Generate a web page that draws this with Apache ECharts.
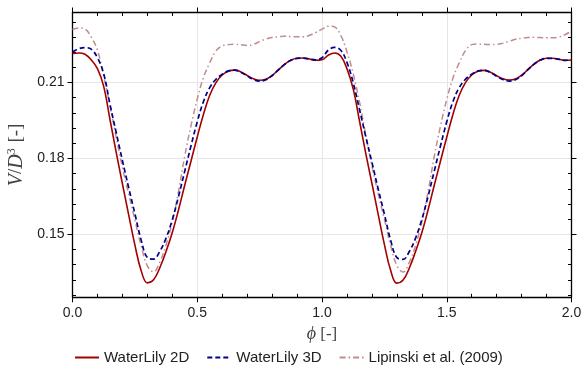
<!DOCTYPE html>
<html><head><meta charset="utf-8">
<script src="https://cdn.jsdelivr.net/npm/echarts@6/dist/echarts.min.js"></script>
<style>html,body{margin:0;padding:0;background:#fff}#c{width:583px;height:370px}</style>
</head><body><div id="c"></div>
<script>
const phi = [0.000,0.025,0.050,0.075,0.100,0.125,0.150,0.175,0.200,0.225,0.250,0.275,0.300,0.325,0.350,0.375,0.400,0.425,0.450,0.475,
0.500,0.525,0.550,0.575,0.600,0.625,0.650,0.675,0.700,0.725,0.750,0.775,0.800,0.825,0.850,0.875,0.900,0.925,0.950,0.975,
1.000,1.025,1.050,1.075,1.100,1.125,1.150,1.175,1.200,1.225,1.250,1.275,1.300,1.325,1.350,1.375,1.400,1.425,1.450,1.475,
1.500,1.525,1.550,1.575,1.600,1.625,1.650,1.675,1.700,1.725,1.750,1.775,1.800,1.825,1.850,1.875,1.900,1.925,1.950,1.975,2.000];

const v2d = [0.2215,0.2217,0.2212,0.2190,0.2155,0.2085,0.1955,0.1825,0.1700,0.1578,0.1458,0.1357,0.1308,0.1320,0.1368,0.1432,0.1507,0.1597,0.1695,0.1790,
0.1885,0.1975,0.2050,0.2100,0.2130,0.2145,0.2149,0.2142,0.2128,0.2115,0.2109,0.2113,0.2128,0.2150,0.2172,0.2188,0.2196,0.2197,0.2193,0.2188,
0.2190,0.2208,0.2217,0.2205,0.2155,0.2075,0.1950,0.1822,0.1702,0.1580,0.1460,0.1358,0.1307,0.1319,0.1367,0.1432,0.1506,0.1596,0.1694,0.1790,
0.1884,0.1975,0.2050,0.2100,0.2130,0.2145,0.2148,0.2141,0.2127,0.2115,0.2110,0.2114,0.2129,0.2151,0.2173,0.2189,0.2196,0.2196,0.2192,0.2188,0.2189];

const v3d = [0.2221,0.2234,0.2238,0.2232,0.2198,0.2135,0.2015,0.1903,0.1792,0.1685,0.1582,0.1478,0.1408,0.1402,0.1433,0.1485,0.1558,0.1650,0.1750,0.1850,
0.1945,0.2025,0.2080,0.2113,0.2133,0.2146,0.2149,0.2141,0.2126,0.2112,0.2106,0.2111,0.2127,0.2150,0.2172,0.2188,0.2196,0.2197,0.2193,0.2190,
0.2198,0.2228,0.2239,0.2228,0.2180,0.2100,0.1995,0.1888,0.1785,0.1680,0.1580,0.1477,0.1408,0.1401,0.1432,0.1485,0.1558,0.1650,0.1750,0.1850,
0.1945,0.2025,0.2080,0.2113,0.2133,0.2146,0.2148,0.2140,0.2125,0.2112,0.2106,0.2111,0.2127,0.2151,0.2173,0.2189,0.2196,0.2196,0.2192,0.2188,0.2189];

const lip = [0.2310,0.2316,0.2312,0.2280,0.2228,0.2125,0.2010,0.1885,0.1765,0.1660,0.1557,0.1455,0.1375,0.1352,0.1390,0.1458,0.1550,0.1670,0.1810,0.1930,
0.2035,0.2120,0.2178,0.2225,0.2245,0.2250,0.2251,0.2250,0.2247,0.2251,0.2262,0.2272,0.2278,0.2281,0.2283,0.2282,0.2281,0.2281,0.2287,0.2298,
0.2311,0.2323,0.2320,0.2287,0.2222,0.2135,0.2025,0.1895,0.1770,0.1662,0.1560,0.1457,0.1377,0.1351,0.1389,0.1456,0.1548,0.1668,0.1808,0.1928,
0.2033,0.2118,0.2178,0.2226,0.2250,0.2252,0.2251,0.2250,0.2251,0.2256,0.2263,0.2271,0.2275,0.2278,0.2279,0.2278,0.2277,0.2277,0.2280,0.2290,0.2303];

const seriesNames = ['WaterLily 2D','WaterLily 3D','Lipinski et al. (2009)'];
const xMajorTicks = [0.0,0.5,1.0,1.5,2.0];
const xMinorTicks = [0.1,0.2,0.3,0.4,0.6,0.7,0.8,0.9,1.1,1.2,1.3,1.4,1.6,1.7,1.8,1.9];
const yMajorTicks = [0.15,0.18,0.21];
const yMinorTicks = [0.126,0.132,0.138,0.144,0.156,0.162,0.168,0.174,0.186,0.192,0.198,0.204,0.216,0.222,0.228,0.234];
const X_MIN = 0, X_MAX = 2, Y_MIN = 0.1251, Y_MAX = 0.2377;

const pts = ys => phi.map((p,i)=>[p, ys[i]]);
const font = 'Liberation Sans, Arial, sans-serif';
const serif = 'Liberation Serif, DejaVu Serif, serif';

function xAx(pos, major){
  return {type:'value', position:pos, min:X_MIN, max:X_MAX,
    axisLine:{show:major, onZero:false, lineStyle:{color:'#000', width:1.3}},
    axisTick:{show:true, inside:!major, length:major?5:3.5, customValues: major?xMajorTicks:xMinorTicks, lineStyle:{color:'#000', width:1}},
    axisLabel:{show:major && pos==='bottom', customValues:xMajorTicks, margin:9, fontSize:14, color:'#222', fontFamily:font, formatter:v=>v.toFixed(1)},
    splitLine:{show:major && pos==='bottom', lineStyle:{color:'#e6e6e6', width:1}},
    name: (major && pos==='bottom') ? '{it|\u03d5}{n| [-]}' : '',
    nameLocation:'middle', nameGap:28,
    nameTextStyle:{rich:{it:{fontFamily:serif, fontStyle:'italic', fontSize:18, color:'#444'}, n:{fontFamily:serif, fontSize:17, color:'#444'}}}
  };
}
function yAx(pos, major){
  return {type:'value', position:pos, min:Y_MIN, max:Y_MAX,
    axisLine:{show:major, onZero:false, lineStyle:{color:'#000', width:1.3}},
    axisTick:{show:true, inside:!major, length:major?5:3.5, customValues: major?yMajorTicks:yMinorTicks, lineStyle:{color:'#000', width:1}},
    axisLabel:{show:major && pos==='left', customValues:yMajorTicks, margin:8, fontSize:14, color:'#222', fontFamily:font, formatter:v=>v.toFixed(2)},
    splitLine:{show:major && pos==='left', lineStyle:{color:'#e6e6e6', width:1}},
    name: (major && pos==='left') ? '{it|V}{n|/}{it|D}{sup|3}{n| [-]}' : '',
    nameLocation:'middle', nameGap:41, nameRotate:90,
    nameTextStyle:{rich:{
      it:{fontFamily:serif, fontStyle:'italic', fontSize:20, color:'#444'},
      n:{fontFamily:serif, fontSize:19, color:'#444'},
      sup:{fontFamily:serif, fontSize:12, color:'#444', padding:[0,1,10,0]}}}
  };
}

const chart = echarts.init(document.getElementById('c'), null, {renderer:'canvas'});
chart.setOption({
  animation:false,
  backgroundColor:'#fff',
  grid:{left:72.5, right:11.5, top:12.5, bottom:72.7, containLabel:false, outerBoundsMode:'none'},
  xAxis:[xAx('bottom',true), xAx('bottom',false), xAx('top',true), xAx('top',false)],
  yAxis:[yAx('left',true), yAx('left',false), yAx('right',true), yAx('right',false)],
  legend:{data:seriesNames, top:345, left:69, itemWidth:24, itemHeight:10, itemGap:17,
    itemStyle:{opacity:0}, textStyle:{fontSize:15, color:'#222', fontFamily:font}},
  series:[
    {name:seriesNames[0], type:'line', data:pts(v2d), smooth:0.4, symbol:'none', xAxisIndex:0, yAxisIndex:0,
      lineStyle:{color:'#a30000', width:1.6}, itemStyle:{color:'#a30000'}, z:3},
    {name:seriesNames[1], type:'line', data:pts(v3d), smooth:0.4, symbol:'none', xAxisIndex:0, yAxisIndex:0,
      lineStyle:{color:'#00008b', width:1.7, type:[5,3]}, itemStyle:{color:'#00008b'}, z:4},
    {name:seriesNames[2], type:'line', data:pts(lip), smooth:0.4, symbol:'none', xAxisIndex:0, yAxisIndex:0,
      lineStyle:{color:'#c08c8c', width:1.5, type:[6,3,1.5,3]}, itemStyle:{color:'#c08c8c'}, z:2}
  ]
});
</script></body></html>
